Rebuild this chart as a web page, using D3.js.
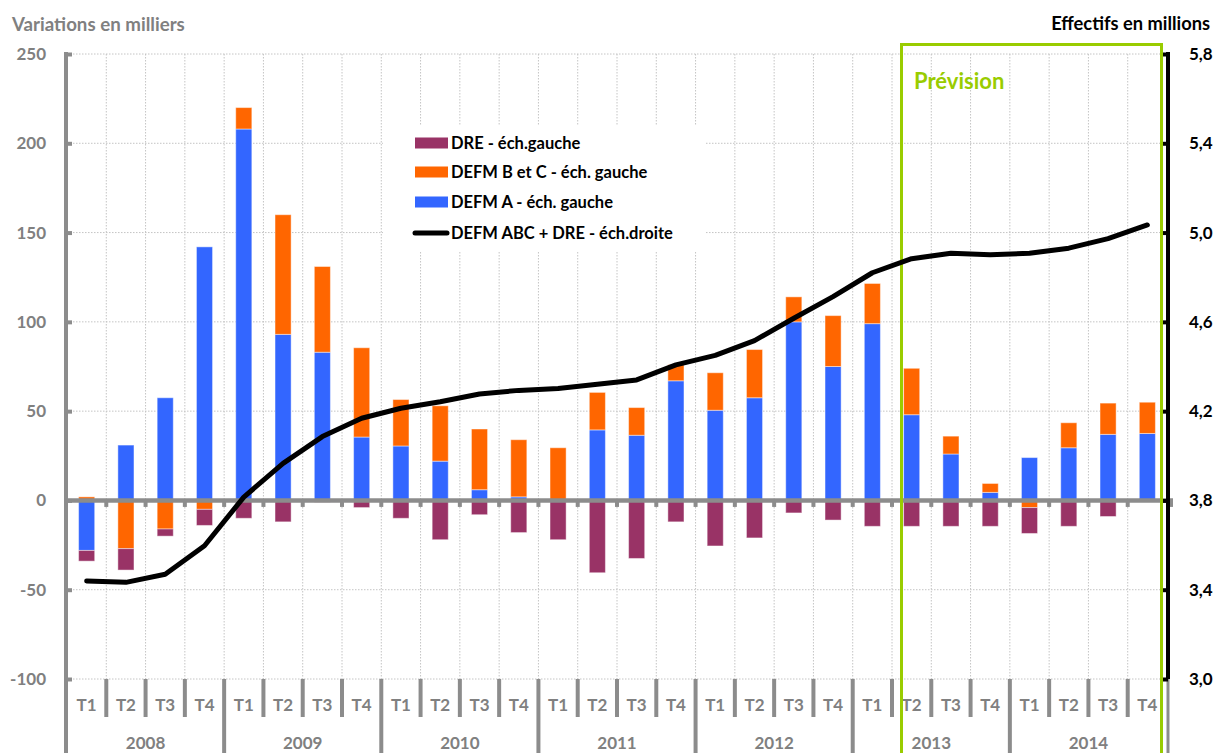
<!DOCTYPE html>
<html>
<head>
<meta charset="utf-8">
<script src="https://cdn.jsdelivr.net/npm/d3@7/dist/d3.min.js"></script>
<style>
  html, body { margin: 0; padding: 0; background: #ffffff; }
  svg { display: block; font-family: "Lato", "Open Sans", sans-serif; font-weight: bold; }
</style>
</head>
<body>
<svg id="chart" width="1220" height="753"></svg>
<script>
// Quarterly categories
const years = ["2008", "2009", "2010", "2011", "2012", "2013", "2014"];
const quarters = ["T1", "T2", "T3", "T4"];

// Quarterly variations, thousands (left scale)
const defmA = [-28, 31, 57.5, 142, 208, 93, 83, 35.5, 30.5, 22, 6, 2, 0, 39.5, 36.5, 67,
               50.5, 57.5, 100, 75, 99, 48, 26, 4.5, 24, 29.5, 37, 37.5];
const defmBC = [2, -27, -16, -5, 12, 67, 48, 50, 26, 31, 34, 32, 29.5, 21, 15.5, 9,
                21, 27, 14, 28.5, 22.5, 26, 10, 5, -4, 14, 17.5, 17.5];
const dre = [-6, -12, -4, -9, -10, -12, -1, -4, -10, -22, -8, -18, -22, -40.5, -32.5, -12,
             -25.5, -21, -7, -11, -14.5, -14.5, -14.5, -14.5, -14.5, -14.5, -9, 0];

// Stock level, millions (right scale)
const totalABCDRE = [3.439, 3.433, 3.469, 3.597, 3.815, 3.966, 4.086, 4.168, 4.213, 4.242, 4.277, 4.293,
                     4.301, 4.320, 4.340, 4.407, 4.450, 4.516, 4.616, 4.713, 4.820, 4.883, 4.907, 4.901,
                     4.907, 4.930, 4.973, 5.034];

// Axis ticks
const leftTicks = [-100, -50, 0, 50, 100, 150, 200, 250];
const rightTicks = [3.0, 3.4, 3.8, 4.2, 4.6, 5.0, 5.4, 5.8];

// Series labels
const seriesKeys = ["A", "BC", "DRE"];
const seriesColors = { A: "#3366FF", BC: "#FF6600", DRE: "#993366" };
const legendLabels = [
  { key: "DRE", label: "DRE - éch.gauche" },
  { key: "BC", label: "DEFM B et C - éch. gauche" },
  { key: "A", label: "DEFM A - éch. gauche" },
  { key: "line", label: "DEFM ABC + DRE - éch.droite" }
];
const forecastStart = "2013 T2";

const categories = [];
years.forEach(yr => quarters.forEach(q => categories.push(yr + " " + q)));
const rows = categories.map((c, i) => ({ cat: c, A: defmA[i], BC: defmBC[i], DRE: dre[i], total: totalABCDRE[i] }));

const svg = d3.select("#chart");
const plotLeft = 67, plotRight = 1167, plotTop = 54, plotBottom = 679;
const axisGray = "#8c8c8c", textGray = "#808080";

const x = d3.scaleBand().domain(categories).range([plotLeft, plotRight]).padding(0);
const y = d3.scaleLinear().domain([-100, 250]).range([plotBottom, plotTop]);
const yR = d3.scaleLinear().domain([3.0, 5.8]).range([plotBottom, plotTop]);
const frNum = v => d3.format(".1f")(v).replace(".", ",");

// Gridlines
const grid = svg.append("g");
grid.selectAll("line.h").data(leftTicks).join("line")
  .attr("x1", plotLeft).attr("x2", plotRight)
  .attr("y1", d => y(d)).attr("y2", d => y(d))
  .attr("stroke", "#c4c4c4").attr("stroke-dasharray", "1.5,1.5");
grid.selectAll("line.v").data(categories.slice(1)).join("line")
  .attr("x1", d => x(d)).attr("x2", d => x(d))
  .attr("y1", plotTop).attr("y2", plotBottom)
  .attr("stroke", "#c4c4c4").attr("stroke-dasharray", "1.5,1.5");

// Stacked bars (positive and negative parts stacked separately)
const stack = d3.stack().keys(seriesKeys).offset(d3.stackOffsetDiverging);
const layers = stack(rows);
const barW = x.bandwidth() * 0.41;
svg.append("g").selectAll("g").data(layers).join("g")
  .attr("fill", d => seriesColors[d.key])
  .selectAll("rect").data(d => d).join("rect")
  .attr("x", d => x(d.data.cat) + (x.bandwidth() - barW) / 2)
  .attr("width", barW)
  .attr("y", d => y(Math.max(d[0], d[1])))
  .attr("height", d => Math.abs(y(d[0]) - y(d[1])))
  .attr("stroke", "rgba(255,255,255,0.45)").attr("stroke-width", 1);

// Zero line with small ticks at category boundaries
const zeroG = svg.append("g");
zeroG.selectAll("rect").data(categories.slice(1).map(c => x(c)).concat([plotRight + 4])).join("rect")
  .attr("x", d => d - 2).attr("y", y(0)).attr("width", 4).attr("height", 6.5)
  .attr("fill", axisGray);
zeroG.append("line")
  .attr("x1", plotLeft).attr("x2", plotRight + 6)
  .attr("y1", y(0)).attr("y2", y(0))
  .attr("stroke", axisGray).attr("stroke-width", 4.5);

// Left axis
const leftAxis = svg.append("g").attr("transform", `translate(${plotLeft - 1},0)`)
  .call(d3.axisLeft(y).tickValues(leftTicks).tickSizeInner(-6).tickSizeOuter(0).tickPadding(20).tickFormat(d => String(d)));
leftAxis.select(".domain").remove();
leftAxis.selectAll(".tick line").attr("stroke", axisGray).attr("stroke-width", 4);
leftAxis.selectAll(".tick text").attr("fill", textGray).attr("font-size", 17)
  .attr("font-family", "Lato, sans-serif").attr("font-weight", "bold");
leftAxis.append("line").attr("x1", 0).attr("x2", 0).attr("y1", plotTop - 2).attr("y2", 753)
  .attr("stroke", axisGray).attr("stroke-width", 4);

// Category axis below the plot
const catAxis = svg.append("g");
catAxis.selectAll("line.q").data(categories.slice(1)).join("line")
  .attr("x1", d => x(d)).attr("x2", d => x(d))
  .attr("y1", plotBottom).attr("y2", (d, i) => ((i + 1) % 4 === 0 ? 753 : 717))
  .attr("stroke", axisGray).attr("stroke-width", 4);
catAxis.append("line").attr("x1", plotRight + 1).attr("x2", plotRight + 1).attr("y1", plotBottom).attr("y2", 753)
  .attr("stroke", axisGray).attr("stroke-width", 3);
catAxis.selectAll("text.q").data(categories).join("text")
  .attr("x", d => x(d) + x.bandwidth() / 2).attr("y", 711)
  .attr("text-anchor", "middle").attr("fill", textGray).attr("font-size", 17)
  .text(d => d.split(" ")[1]);
catAxis.selectAll("text.y").data(years).join("text")
  .attr("x", d => (x(d + " T1") + x(d + " T4") + x.bandwidth()) / 2).attr("y", 749)
  .attr("text-anchor", "middle").attr("fill", textGray).attr("font-size", 17)
  .text(d => d);

// Right axis
const rightAxis = svg.append("g").attr("transform", `translate(${plotRight + 1},0)`)
  .call(d3.axisRight(yR).tickValues(rightTicks).tickSizeInner(-6).tickSizeOuter(0).tickPadding(21).tickFormat(frNum));
rightAxis.select(".domain").remove();
rightAxis.selectAll(".tick line").attr("stroke", "#000").attr("stroke-width", 4);
rightAxis.selectAll(".tick text").attr("fill", "#000").attr("font-size", 17)
  .attr("font-family", "Lato, sans-serif").attr("font-weight", "bold");
rightAxis.append("line").attr("x1", 0).attr("x2", 0).attr("y1", plotTop - 2).attr("y2", plotBottom)
  .attr("stroke", "#000").attr("stroke-width", 4);

// Forecast frame
const fx0 = x(forecastStart) + 9.5, fx1 = plotRight - 5.5;
svg.append("path")
  .attr("d", `M${fx0},760 V44.5 H${fx1} V760`)
  .attr("fill", "none").attr("stroke", "#99CC00").attr("stroke-width", 3);
svg.append("text").attr("x", fx0 + 12.5).attr("y", 89)
  .attr("fill", "#99CC00").attr("font-size", 22).text("Prévision");

// Stock line (right scale)
svg.append("path").datum(rows)
  .attr("d", d3.line().x(d => x(d.cat) + x.bandwidth() / 2).y(d => yR(d.total)))
  .attr("fill", "none").attr("stroke", "#000").attr("stroke-width", 5)
  .attr("stroke-linejoin", "round").attr("stroke-linecap", "round");

// Legend
const lg = svg.append("g");
lg.append("rect").attr("x", 383).attr("y", 126).attr("width", 322).attr("height", 125).attr("fill", "#fff");
const rowY = [143, 172, 202, 233];
legendLabels.forEach((e, i) => {
  if (e.key === "line") {
    lg.append("line").attr("x1", 415).attr("x2", 447).attr("y1", rowY[i]).attr("y2", rowY[i])
      .attr("stroke", "#000").attr("stroke-width", 5).attr("stroke-linecap", "round");
  } else {
    lg.append("rect").attr("x", 415).attr("y", rowY[i] - 5.5).attr("width", 33).attr("height", 11)
      .attr("fill", seriesColors[e.key]);
  }
  lg.append("text").attr("x", 451).attr("y", rowY[i] + 6).attr("font-size", 16.5).attr("fill", "#000").text(e.label);
});

// Axis titles
svg.append("text").attr("x", 12).attr("y", 31).attr("fill", textGray).attr("font-size", 18.7).text("Variations en milliers");
svg.append("text").attr("x", 1210).attr("y", 30).attr("text-anchor", "end").attr("fill", "#000").attr("font-size", 18.3).text("Effectifs en millions");
</script>
</body>
</html>
